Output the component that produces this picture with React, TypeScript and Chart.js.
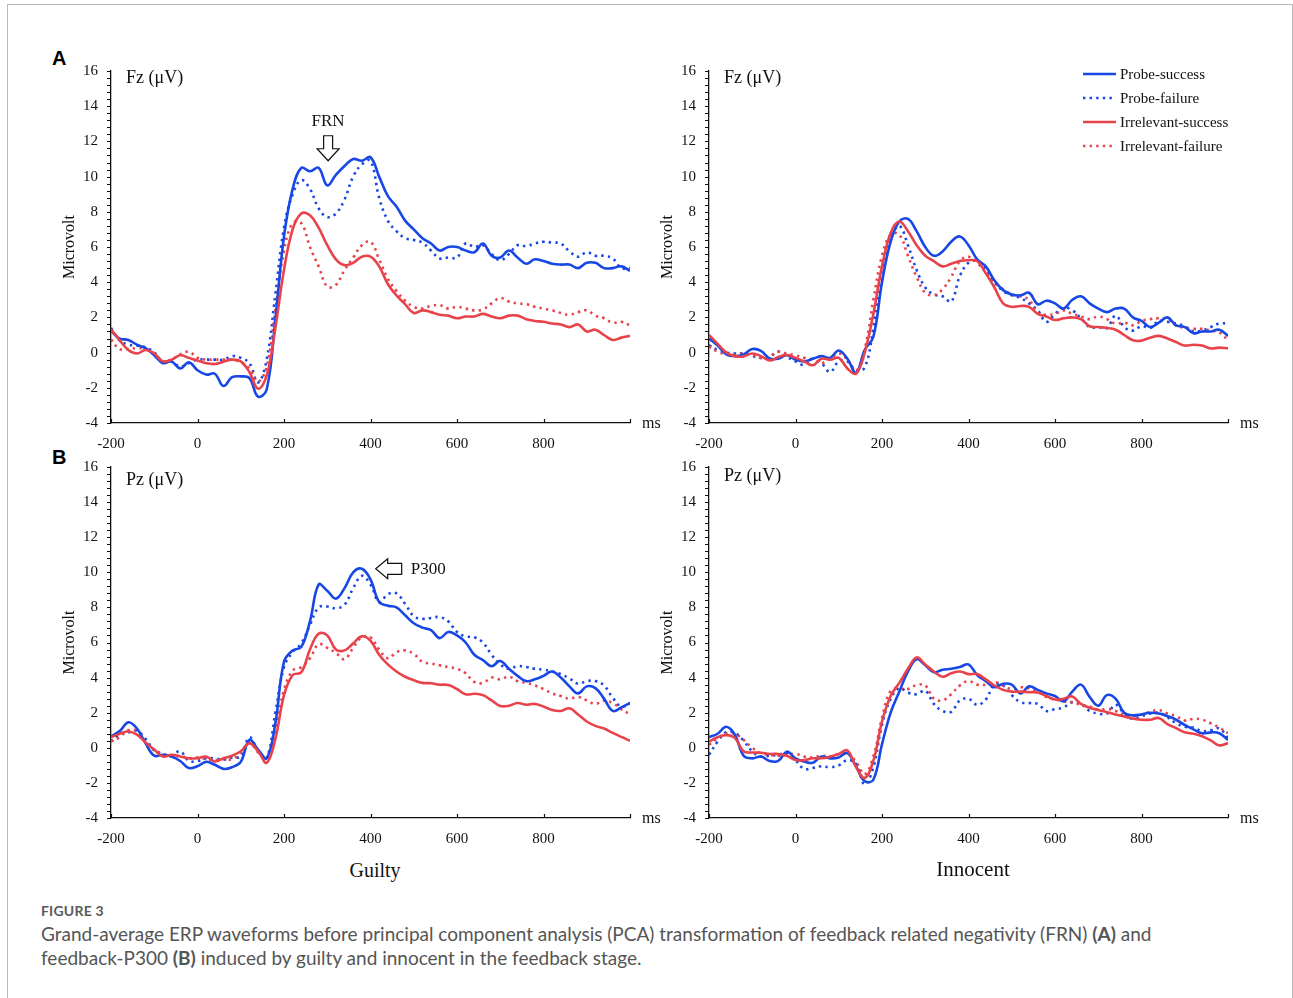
import React, { useEffect, useRef } from 'react';
import { Chart, registerables } from 'chart.js';

Chart.register(...registerables);

// ---------------- data ----------------
const TIMES = [
  -200, -180, -160, -140, -120, -100, -80, -60, -40, -20,
  0, 20, 40, 60, 80, 100, 120, 140, 160, 180,
  200, 220, 240, 260, 280, 300, 320, 340, 360, 380,
  400, 420, 440, 460, 480, 500, 520, 540, 560, 580,
  600, 620, 640, 660, 680, 700, 720, 740, 760, 780,
  800, 820, 840, 860, 880, 900, 920, 940, 960, 980, 1000,
];

const SERIES_LABELS = ['Probe-success', 'Probe-failure', 'Irrelevant-success', 'Irrelevant-failure'];

const X_TICKS = [-200, 0, 200, 400, 600, 800, 1000];
const Y_TICKS = [-4, -2, 0, 2, 4, 6, 8, 10, 12, 14, 16];

// (A) Fz, Guilty
const FZ_GUILTY_PROBE_SUCCESS = [
  1.25, 0.8, 0.72, 0.45, 0.25, -0.15, -0.6, -0.5, -0.9, -0.55,
  -1.0, -1.25, -1.2, -1.9, -1.4, -1.35, -1.45, -2.5, -2.1, 1.9,
  6.6, 9.3, 10.5, 10.3, 10.5, 9.5, 10.1, 10.6, 11.0, 10.9,
  11.1, 10.0, 8.9, 8.3, 7.5, 7.0, 6.5, 6.2, 5.8, 6.0,
  6.0, 5.8, 5.7, 6.2, 5.5, 5.4, 5.8, 5.4, 5.05, 5.3,
  5.2, 5.05, 5.0, 5.0, 4.8, 5.1, 5.1, 4.8, 4.8, 4.9, 4.65,
];
const FZ_GUILTY_PROBE_FAILURE = [
  1.4, 0.7, 0.45, 0.4, 0.3, 0.0, -0.5, -0.5, -0.8, -0.6,
  -0.4, -0.4, -0.4, -0.4, -0.2, -0.3, -0.6, -1.7, -0.4, 3.3,
  7.1, 9.0, 9.8, 9.3, 8.2, 7.7, 7.9, 8.7, 10.0, 10.7,
  10.9, 8.8, 7.5, 6.9, 6.5, 6.4, 6.25, 5.8, 5.35, 5.4,
  5.4, 6.2, 6.0, 6.1, 5.6, 5.25, 5.6, 6.1, 6.05, 6.2,
  6.3, 6.25, 6.2, 5.75, 5.45, 5.7, 5.5, 5.5, 5.35, 4.8, 4.8,
];
const FZ_GUILTY_IRRELEVANT_SUCCESS = [
  1.32, 0.7, 0.15, -0.05, 0.15, -0.05, -0.5, -0.4, -0.15, -0.3,
  -0.45, -0.6, -0.65, -0.52, -0.4, -0.5, -1.1, -2.05, -1.3, 1.4,
  4.7, 7.0, 7.9, 7.8, 7.1, 6.1, 5.3, 4.97, 5.1, 5.45,
  5.45, 4.9, 3.9, 3.25, 2.75, 2.25, 2.4, 2.3, 2.15, 2.1,
  1.95, 2.05, 2.05, 2.2, 2.05, 1.95, 2.1, 2.1, 1.9, 1.8,
  1.75, 1.65, 1.6, 1.45, 1.6, 1.2, 1.3, 1.0, 0.72, 0.85, 0.95,
];
const FZ_GUILTY_IRRELEVANT_FAILURE = [
  0.75, 0.2, 0.2, 0.25, 0.2, -0.05, -0.5, -0.4, -0.1, 0.05,
  -0.3, -0.4, -0.4, -0.4, -0.4, -0.55, -0.9, -1.65, -0.8, 2.4,
  5.8, 7.35, 7.35, 6.0, 4.9, 3.75, 3.85, 4.7, 5.4, 6.1,
  6.3, 5.3, 4.2, 3.5, 2.95, 2.6, 2.5, 2.65, 2.7, 2.5,
  2.6, 2.5, 2.4, 2.45, 2.8, 3.1, 2.9, 2.8, 2.75, 2.6,
  2.5, 2.4, 2.25, 2.15, 2.3, 2.4, 2.1, 1.95, 1.7, 1.75, 1.55,
];

// (A) Fz, Innocent
const FZ_INNOCENT_PROBE_SUCCESS = [
  0.8, 0.4, -0.1, -0.2, -0.1, 0.2, 0.1, -0.33, -0.35, -0.15,
  -0.4, -0.5, -0.35, -0.2, -0.3, 0.12, -0.35, -1.15, 0.15, 0.9,
  4.0, 6.3, 7.45, 7.6, 6.9, 6.0, 5.5, 5.75, 6.3, 6.6,
  6.1, 5.3, 4.9, 4.1, 3.55, 3.3, 3.25, 3.4, 2.75, 2.95,
  2.8, 2.5, 3.0, 3.2, 2.8, 2.5, 2.3, 2.5, 2.5, 2.0,
  1.8, 1.45, 1.7, 2.0, 1.55, 1.45, 1.1, 1.2, 1.2, 1.3, 0.95,
];
const FZ_INNOCENT_PROBE_FAILURE = [
  0.43, 0.15, 0.0, -0.05, -0.05, -0.2, -0.3, -0.25, 0.05, -0.25,
  -0.5, -0.7, -0.35, -0.6, -1.1, -0.5, -0.5, -1.0, -0.85, 1.4,
  4.7, 6.5, 7.2, 6.1, 4.7, 3.7, 3.3, 3.2, 2.9, 4.35,
  5.1, 5.2, 4.75, 4.0, 3.5, 3.25, 3.1, 2.8, 2.4, 1.75,
  2.2, 2.55, 2.4, 1.95, 1.45, 1.45, 1.4, 2.1, 1.45, 1.25,
  1.5, 1.4, 1.8, 1.75, 1.65, 1.5, 1.2, 1.25, 1.45, 1.65, 1.65,
];
const FZ_INNOCENT_IRRELEVANT_SUCCESS = [
  1.0, 0.5, 0.0, -0.2, -0.22, -0.05, -0.2, -0.45, -0.25, -0.14,
  -0.3, -0.5, -0.72, -0.35, -0.4, -0.3, -0.9, -1.2, 0.0, 2.2,
  4.9, 6.8, 7.45, 6.9, 6.1, 5.5, 5.2, 4.9, 5.05, 5.2,
  5.25, 5.2, 4.5, 3.7, 2.8, 2.6, 2.65, 2.6, 2.2, 2.05,
  1.85, 1.95, 2.0, 1.9, 1.5, 1.45, 1.4, 1.3, 1.0, 0.7,
  0.68, 0.85, 0.95, 0.8, 0.6, 0.4, 0.45, 0.4, 0.24, 0.28, 0.25,
];
const FZ_INNOCENT_IRRELEVANT_FAILURE = [
  0.35, 0.05, -0.1, -0.14, -0.05, -0.14, -0.3, -0.2, 0.05, -0.05,
  -0.15, -0.3, -0.4, -0.6, -0.35, -0.05, -0.4, -1.05, 0.2, 3.0,
  5.5, 6.7, 6.7, 5.5, 4.3, 3.4, 3.27, 3.6, 4.3, 5.2,
  5.45, 5.1, 4.55, 4.0, 3.6, 3.3, 3.2, 3.0, 2.25, 2.15,
  2.2, 2.4, 2.2, 2.05, 1.9, 2.05, 1.9, 1.65, 1.7, 1.55,
  1.8, 1.9, 1.95, 1.9, 1.55, 1.4, 1.35, 1.35, 1.25, 1.15, 0.7,
];

// (B) Pz, Guilty
const PZ_GUILTY_PROBE_SUCCESS = [
  0.65, 0.95, 1.45, 1.1, 0.25, -0.45, -0.4, -0.5, -0.75, -1.15,
  -1.05, -0.8, -0.97, -1.2, -1.1, -0.8, 0.45, -0.1, -0.6, 1.4,
  4.9, 5.55, 5.75, 7.2, 9.3, 8.95, 8.5, 9.1, 10.0, 10.2,
  9.6, 8.3, 8.1, 8.0, 7.55, 7.1, 6.85, 6.7, 6.25, 6.6,
  6.4, 6.0, 5.3, 5.0, 4.65, 4.95, 4.5, 4.1, 3.8, 3.9,
  4.1, 4.35, 4.0, 3.5, 3.1, 3.5, 3.4, 2.8, 2.1, 2.3, 2.55,
];
const PZ_GUILTY_PROBE_FAILURE = [
  0.36, 0.74, 0.88, 0.95, 0.5, -0.15, -0.35, -0.45, -0.2, -0.75,
  -0.75, -0.6, -0.6, -0.68, -0.55, -0.5, 0.6, -0.15, -0.55, 2.0,
  4.6, 5.45, 5.95, 7.0, 8.0, 8.05, 7.95, 8.15, 9.1, 9.8,
  9.3, 8.3, 8.75, 8.8, 8.2, 7.5, 7.35, 7.4, 7.45, 7.2,
  6.6, 6.35, 6.3, 6.0, 5.3, 4.75, 4.5, 4.65, 4.6, 4.5,
  4.45, 4.35, 4.2, 3.95, 3.65, 3.8, 3.8, 3.55, 2.85, 2.35, 2.55,
];
const PZ_GUILTY_IRRELEVANT_SUCCESS = [
  0.6, 0.8, 0.93, 0.75, 0.3, -0.1, -0.5, -0.4, -0.5, -0.6,
  -0.6, -0.5, -0.78, -0.6, -0.45, -0.2, 0.25, -0.2, -0.85, 0.5,
  3.0, 4.15, 4.3, 5.6, 6.5, 6.4, 5.6, 5.55, 5.95, 6.35,
  6.1, 5.3, 4.75, 4.35, 4.05, 3.85, 3.7, 3.68, 3.6, 3.58,
  3.35, 3.05, 3.08, 3.0, 2.7, 2.38, 2.4, 2.55, 2.45, 2.5,
  2.35, 2.15, 2.1, 2.25, 1.9, 1.5, 1.25, 1.1, 0.85, 0.62, 0.4,
];
const PZ_GUILTY_IRRELEVANT_FAILURE = [
  0.36, 0.6, 1.0, 0.95, 0.3, -0.1, -0.35, -0.5, -0.45, -0.6,
  -0.55, -0.65, -0.7, -0.65, -0.65, -0.25, 0.3, -0.25, -0.6, 0.9,
  3.3, 4.4, 4.6, 5.1, 5.9, 5.7, 5.4, 5.05, 5.7, 6.3,
  6.3, 5.6, 5.1, 5.45, 5.55, 5.35, 4.9, 4.8, 4.7, 4.6,
  4.5, 4.25, 3.75, 3.7, 4.0, 3.9, 4.05, 3.8, 3.7, 3.55,
  3.35, 3.1, 2.95, 2.8, 2.9, 2.7, 2.5, 2.7, 2.55, 2.2, 1.9,
];

// (B) Pz, Innocent
const PZ_INNOCENT_PROBE_SUCCESS = [
  0.6, 0.8, 1.2, 0.74, -0.45, -0.6, -0.5, -0.75, -0.75, -0.22,
  -0.6, -0.78, -0.85, -0.5, -0.6, -0.55, -0.3, -1.05, -1.9, -1.82,
  0.2, 2.0, 3.2, 4.35, 5.05, 4.7, 4.3, 4.45, 4.5, 4.6,
  4.75, 4.15, 3.8, 3.45, 3.65, 3.6, 3.1, 3.5, 3.3, 3.1,
  2.95, 2.65, 3.2, 3.6, 2.9, 2.4, 3.0, 2.8, 2.0, 1.85,
  1.9, 2.0, 1.95, 1.8, 1.6, 1.3, 1.05, 0.83, 0.88, 0.83, 0.45,
];
const PZ_INNOCENT_PROBE_FAILURE = [
  -0.4, 0.35, 0.9, 0.85, 0.4, -0.2, -0.5, -0.45, -0.4, -0.3,
  -0.7, -1.2, -1.15, -1.05, -1.1, -1.0, -0.7, -0.9, -2.1, -1.1,
  1.3, 2.8, 3.4, 3.15, 3.05, 3.25, 2.5, 2.1, 2.05, 2.7,
  2.8, 2.45, 2.75, 3.6, 3.55, 3.0, 2.6, 2.55, 2.5, 2.1,
  2.2, 2.3, 2.6, 2.5, 2.1, 1.95, 1.95, 2.45, 1.95, 1.65,
  1.8, 1.95, 2.0, 1.75, 1.4, 1.2, 1.15, 0.95, 1.0, 1.1, 0.55,
];
const PZ_INNOCENT_IRRELEVANT_SUCCESS = [
  0.36, 0.6, 0.72, 0.55, -0.2, -0.27, -0.28, -0.35, -0.35, -0.45,
  -0.7, -0.7, -0.6, -0.6, -0.5, -0.35, -0.15, -1.1, -1.72, -0.75,
  1.5, 2.95, 3.7, 4.5, 5.15, 4.75, 4.35, 4.05, 4.25, 4.35,
  4.2, 4.2, 3.9, 3.55, 3.3, 3.2, 3.2, 3.17, 3.15, 2.95,
  2.75, 2.8, 2.92, 2.5, 2.28, 2.16, 2.03, 1.9, 1.78, 1.67,
  1.6, 1.6, 1.7, 1.35, 1.12, 0.88, 0.8, 0.66, 0.42, 0.14, 0.27,
];
const PZ_INNOCENT_IRRELEVANT_FAILURE = [
  0.17, 0.55, 0.83, 0.8, 0.45, 0.0, -0.3, -0.4, -0.45, -0.4,
  -0.35, -0.5, -0.55, -0.45, -0.5, -0.35, -0.3, -0.8, -1.5, -0.5,
  1.7, 3.25, 3.38, 3.35, 3.58, 3.55, 2.8, 2.7, 3.05, 3.55,
  3.8, 3.6, 3.6, 3.75, 3.55, 3.35, 3.45, 3.4, 3.2, 2.9,
  2.76, 2.64, 2.6, 2.45, 2.35, 2.16, 2.22, 2.1, 1.88, 1.8,
  1.9, 2.05, 2.15, 1.95, 1.8, 1.55, 1.65, 1.6, 1.4, 1.15, 0.83,
];

// ---------------- styles / layout ----------------
const SERIF = "'Liberation Serif', 'Times New Roman', Times, serif";
const SANS = "'Liberation Sans', Arial, sans-serif";
const CAPTION_FONT = "Lato, 'Open Sans', 'Noto Sans', sans-serif";
const BLUE = '#1747e4';
const RED = '#e8434b';
const INK = '#111111';
const DOT = [2.4, 4.2];
const LINE_W = 2.6;

const SERIES_STYLE = [
  { color: BLUE, dash: [] as number[], order: 1 },
  { color: BLUE, dash: DOT, order: 3 },
  { color: RED, dash: [] as number[], order: 0 },
  { color: RED, dash: DOT, order: 2 },
];

const YW = 81; // y-axis box width
const PT = 31; // padding above plot
const PR = 50; // padding right of plot
const XH = 40; // x-axis box height

type PanelDef = {
  key: string;
  area: { l: number; t: number; r: number; b: number };
  site: string;
  siteDy: number;
  series: number[][];
  legend: boolean;
  annot: '' | 'FRN' | 'P300';
};

const PANELS: PanelDef[] = [
  {
    key: 'AG', area: { l: 111, t: 71, r: 630, b: 423 }, site: 'Fz (\u03bcV)', siteDy: 7,
    series: [FZ_GUILTY_PROBE_SUCCESS, FZ_GUILTY_PROBE_FAILURE, FZ_GUILTY_IRRELEVANT_SUCCESS, FZ_GUILTY_IRRELEVANT_FAILURE],
    legend: false, annot: 'FRN',
  },
  {
    key: 'AI', area: { l: 709, t: 71, r: 1228, b: 423 }, site: 'Fz (\u03bcV)', siteDy: 7,
    series: [FZ_INNOCENT_PROBE_SUCCESS, FZ_INNOCENT_PROBE_FAILURE, FZ_INNOCENT_IRRELEVANT_SUCCESS, FZ_INNOCENT_IRRELEVANT_FAILURE],
    legend: true, annot: '',
  },
  {
    key: 'BG', area: { l: 111, t: 467, r: 630, b: 818 }, site: 'Pz (\u03bcV)', siteDy: 13,
    series: [PZ_GUILTY_PROBE_SUCCESS, PZ_GUILTY_PROBE_FAILURE, PZ_GUILTY_IRRELEVANT_SUCCESS, PZ_GUILTY_IRRELEVANT_FAILURE],
    legend: false, annot: 'P300',
  },
  {
    key: 'BI', area: { l: 709, t: 467, r: 1228, b: 818 }, site: 'Pz (\u03bcV)', siteDy: 9,
    series: [PZ_INNOCENT_PROBE_SUCCESS, PZ_INNOCENT_PROBE_FAILURE, PZ_INNOCENT_IRRELEVANT_SUCCESS, PZ_INNOCENT_IRRELEVANT_FAILURE],
    legend: false, annot: '',
  },
];

const FRN_AT_MS = 302;
const FRN_TIP_UV = 10.9;
const P300_AT_MS = 412;
const P300_UV = 10.2;

function geom(p: PanelDef) {
  const { l, t, r, b } = p.area;
  return { left: l - YW, top: t - PT, w: r - l + YW + PR, h: b - t + PT + XH };
}

function makeOverlay(p: PanelDef) {
  return {
    id: 'overlay' + p.key,
    afterDraw(chart: any) {
      const { ctx, chartArea: a, scales } = chart;
      const xs = scales.x;
      const ys = scales.y;
      ctx.save();
      // tick marks
      ctx.strokeStyle = INK;
      ctx.lineWidth = 1.2;
      ctx.setLineDash([]);
      ctx.beginPath();
      for (let k = 0; k <= 50; k++) {
        const v = Y_TICKS[0] + k * 0.4;
        const py = Math.round(ys.getPixelForValue(v)) + 0.5;
        ctx.moveTo(a.left - 4, py);
        ctx.lineTo(a.left, py);
      }
      for (const t of X_TICKS) {
        const px = Math.round(xs.getPixelForValue(t)) + 0.5;
        ctx.moveTo(px, a.bottom);
        ctx.lineTo(px, a.bottom - 4);
      }
      ctx.stroke();

      ctx.fillStyle = INK;
      // y title
      ctx.font = `16px ${SERIF}`;
      ctx.textAlign = 'center';
      ctx.textBaseline = 'middle';
      ctx.save();
      ctx.translate(a.left - 41, (a.top + a.bottom) / 2);
      ctx.rotate(-Math.PI / 2);
      ctx.fillText('Microvolt', 0, 0);
      ctx.restore();
      // site label
      ctx.font = `18px ${SERIF}`;
      ctx.textAlign = 'left';
      ctx.fillText(p.site, a.left + 15, a.top + p.siteDy);
      // unit
      ctx.font = `16px ${SERIF}`;
      ctx.fillText('ms', a.right + 12, a.bottom + 1);

      // legend
      if (p.legend) {
        const x0 = a.right - 145;
        const x1 = a.right - 112;
        ctx.font = `15px ${SERIF}`;
        SERIES_LABELS.forEach((lab, i) => {
          const y = a.top + 3 + 24 * i;
          const st = SERIES_STYLE[i];
          ctx.strokeStyle = st.color;
          ctx.lineWidth = LINE_W;
          ctx.setLineDash(st.dash);
          ctx.beginPath();
          ctx.moveTo(x0, y);
          ctx.lineTo(x1, y);
          ctx.stroke();
          ctx.fillStyle = INK;
          ctx.fillText(lab, a.right - 108, y + 1);
        });
        ctx.setLineDash([]);
      }

      // annotations
      ctx.strokeStyle = INK;
      ctx.lineWidth = 1.2;
      ctx.fillStyle = '#ffffff';
      if (p.annot === 'FRN') {
        const cx = xs.getPixelForValue(FRN_AT_MS);
        const tip = ys.getPixelForValue(FRN_TIP_UV);
        ctx.beginPath();
        ctx.moveTo(cx, tip);
        ctx.lineTo(cx - 11, tip - 12);
        ctx.lineTo(cx - 4.5, tip - 12);
        ctx.lineTo(cx - 4.5, tip - 25);
        ctx.lineTo(cx + 4.5, tip - 25);
        ctx.lineTo(cx + 4.5, tip - 12);
        ctx.lineTo(cx + 11, tip - 12);
        ctx.closePath();
        ctx.fill();
        ctx.stroke();
        ctx.fillStyle = INK;
        ctx.font = `17px ${SERIF}`;
        ctx.textAlign = 'center';
        ctx.fillText('FRN', cx, tip - 39);
      }
      if (p.annot === 'P300') {
        const tx = xs.getPixelForValue(P300_AT_MS);
        const cy = ys.getPixelForValue(P300_UV);
        ctx.beginPath();
        ctx.moveTo(tx, cy);
        ctx.lineTo(tx + 12, cy - 10);
        ctx.lineTo(tx + 12, cy - 5.5);
        ctx.lineTo(tx + 26, cy - 5.5);
        ctx.lineTo(tx + 26, cy + 5.5);
        ctx.lineTo(tx + 12, cy + 5.5);
        ctx.lineTo(tx + 12, cy + 10);
        ctx.closePath();
        ctx.fill();
        ctx.stroke();
        ctx.fillStyle = INK;
        ctx.font = `17px ${SERIF}`;
        ctx.textAlign = 'left';
        ctx.fillText('P300', tx + 35, cy + 1);
      }
      ctx.restore();
    },
  };
}

function makeConfig(p: PanelDef): any {
  const datasets = p.series.map((vals, i) => ({
    label: SERIES_LABELS[i],
    data: TIMES.map((t, j) => ({ x: t, y: vals[j] })),
    borderColor: SERIES_STYLE[i].color,
    backgroundColor: SERIES_STYLE[i].color,
    borderWidth: LINE_W,
    borderDash: SERIES_STYLE[i].dash,
    borderCapStyle: 'butt',
    borderJoinStyle: 'round',
    pointRadius: 0,
    tension: 0.4,
    fill: false,
    order: SERIES_STYLE[i].order,
  }));
  const tickFont = { family: SERIF, size: 15 };
  return {
    type: 'line',
    data: { datasets },
    options: {
      responsive: false,
      animation: false,
      events: [],
      layout: { padding: { left: 0, top: PT, right: PR, bottom: 0 } },
      plugins: { legend: { display: false }, tooltip: { enabled: false }, title: { display: false } },
      scales: {
        x: {
          type: 'linear',
          min: X_TICKS[0],
          max: X_TICKS[X_TICKS.length - 1],
          afterBuildTicks: (s: any) => { s.ticks = X_TICKS.map((v) => ({ value: v })); },
          afterFit: (s: any) => { s.height = XH; },
          ticks: {
            autoSkip: false,
            maxRotation: 0,
            color: INK,
            font: tickFont,
            padding: 12,
            callback: (v: number) => (v === X_TICKS[X_TICKS.length - 1] ? '' : String(v)),
          },
          grid: { display: false, drawTicks: false },
          border: { display: true, color: INK, width: 1.3 },
        },
        y: {
          type: 'linear',
          min: Y_TICKS[0],
          max: Y_TICKS[Y_TICKS.length - 1],
          afterBuildTicks: (s: any) => { s.ticks = Y_TICKS.map((v) => ({ value: v })); },
          afterFit: (s: any) => { s.width = YW; },
          ticks: { color: INK, font: tickFont, padding: 13, callback: (v: number) => String(v) },
          grid: { display: false, drawTicks: false },
          border: { display: true, color: INK, width: 1.3 },
        },
      },
    },
    plugins: [makeOverlay(p)],
  };
}

function Panel({ p }: { p: PanelDef }) {
  const ref = useRef<HTMLCanvasElement>(null);
  useEffect(() => {
    if (!ref.current) return;
    const chart = new Chart(ref.current, makeConfig(p));
    return () => chart.destroy();
  }, [p]);
  const g = geom(p);
  return (
    <canvas
      ref={ref}
      width={g.w}
      height={g.h}
      style={{ position: 'absolute', left: g.left, top: g.top, width: g.w, height: g.h }}
    />
  );
}

export default function App() {
  return (
    <div style={{ position: 'absolute', left: 0, top: 0, width: 1293, height: 998, overflow: 'hidden', background: '#fff' }}>
      <div
        style={{
          position: 'absolute', left: 7, top: 4, width: 1286, height: 1100, boxSizing: 'border-box',
          borderTop: '1px solid #b8b8b8', borderLeft: '1px solid #b8b8b8', borderRight: '1px solid #b8b8b8',
        }}
      />
      <div style={{ position: 'absolute', left: 52, top: 48, font: `bold 20px ${SANS}`, lineHeight: '20px', color: '#000' }}>A</div>
      <div style={{ position: 'absolute', left: 52, top: 447, font: `bold 20px ${SANS}`, lineHeight: '20px', color: '#000' }}>B</div>
      {PANELS.map((p) => (
        <Panel key={p.key} p={p} />
      ))}
      <div style={{ position: 'absolute', left: 275, top: 860, width: 200, textAlign: 'center', font: `20px ${SERIF}`, lineHeight: '20px', color: INK }}>Guilty</div>
      <div style={{ position: 'absolute', left: 873, top: 859, width: 200, textAlign: 'center', font: `21px ${SERIF}`, lineHeight: '21px', color: INK }}>Innocent</div>
      <div style={{ position: 'absolute', left: 41, top: 903, font: `bold 14px ${CAPTION_FONT}`, lineHeight: '16px', color: '#5a5a5a', letterSpacing: 0.2 }}>FIGURE 3</div>
      <div style={{ position: 'absolute', left: 41, top: 922, width: 1220, font: `19px ${CAPTION_FONT}`, lineHeight: '24px', color: '#555', whiteSpace: 'nowrap' }}>
        Grand-average ERP waveforms before principal component analysis (PCA) transformation of feedback related negativity (FRN) <b>(A)</b> and
        <br />
        feedback-P300 <b>(B)</b> induced by guilty and innocent in the feedback stage.
      </div>
    </div>
  );
}
